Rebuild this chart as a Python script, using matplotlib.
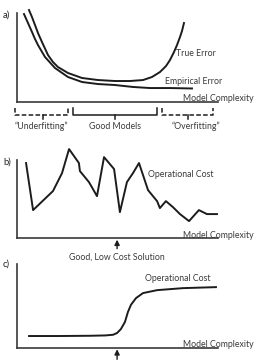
import matplotlib
matplotlib.use("Agg")
import matplotlib.pyplot as plt

# ------------------------------------------------------------------ #
# curve data (x = model complexity, y = error / cost, axis units 0-100)
# ------------------------------------------------------------------ #
TRUE_X = [5.97, 7.46, 8.96, 10.45, 12.44, 15.42, 17.91, 20.40, 25.37, 32.34,
          40.30, 48.76, 56.22, 62.69, 67.16, 71.14, 74.13, 76.12, 78.11,
          79.60, 81.09, 82.09, 83.08]
TRUE_Y = [103.4, 95.5, 86.5, 77.5, 67.4, 52.8, 44.9, 39.3, 32.6, 27.0,
          24.7, 23.6, 23.6, 24.7, 28.1, 33.7, 40.4, 47.2, 56.2, 64.0,
          73.0, 79.8, 88.8]
EMP_X = [3.48, 5.47, 7.46, 8.96, 10.45, 13.93, 18.91, 25.37, 32.34, 40.30,
         48.76, 57.71, 66.17, 76.12, 87.06]
EMP_Y = [98.9, 88.8, 78.7, 70.8, 64.0, 50.6, 38.2, 28.1, 22.5, 20.2,
         19.1, 16.9, 15.7, 15.7, 15.2]

COST_B_X = [4.5, 8.0, 17.9, 22.4, 25.9, 30.8, 31.3, 35.8, 39.8, 43.3,
            48.3, 51.2, 54.7, 57.7, 60.7, 65.2, 69.7, 71.1, 74.1, 77.6,
            81.1, 85.6, 90.5, 94.5, 99.5]
COST_B_Y = [96.2, 35.9, 60.3, 83.3, 114.1, 96.2, 85.9, 71.8, 53.8, 103.8,
            88.5, 33.3, 71.8, 83.3, 96.2, 61.5, 47.4, 38.5, 47.4, 39.7,
            30.8, 21.8, 35.9, 30.8, 30.8]

COST_C_X = [6.0, 21.4, 36.3, 44.0, 47.8, 49.8, 51.7, 53.7, 55.2, 56.7,
            59.2, 62.7, 69.7, 82.6, 99.0]
COST_C_Y = [14.3, 14.3, 14.6, 15.0, 15.8, 17.9, 22.6, 31.0, 43.0, 51.5,
            59.5, 65.5, 69.0, 71.4, 72.6]

# regions under panel a
REGION_LABELS = ["\u201cUnderfitting\u201d", "Good Models", "\u201cOverfitting\u201d"]
REGION_START = [-1.0, 27.9, 72.1]
REGION_END = [25.4, 69.7, 97.5]
REGION_MID = [12.9, 48.8, 85.1]
REGION_TEXT_X = [11.9, 48.8, 89.1]
REGION_DASHED = [True, False, True]

BEST_X = 49.8

INK = "#1c1c1c"
TXT = "#3a3a3a"
FS = 6.3

plt.rcParams["font.family"] = ["Lato", "DejaVu Sans"]


def _frame(ax):
    ax.set_xlim(0, 100)
    ax.set_ylim(0, 100)
    for s in ("top", "right"):
        ax.spines[s].set_visible(False)
    for s in ("left", "bottom"):
        ax.spines[s].set_color("#3a3a3a")
        ax.spines[s].set_linewidth(1.2)
    ax.set_xticks([])
    ax.set_yticks([])
    ax.patch.set_alpha(0)
    ax.text(82.6, 4.0, "Model Complexity", fontsize=FS, color=TXT,
            va="center", ha="left", clip_on=False)


def _arrow(ax, y0, y1):
    ax.annotate("", xy=(BEST_X, y1), xytext=(BEST_X, y0),
                arrowprops=dict(arrowstyle="-|>,head_length=0.5,head_width=0.25",
                                color=INK, lw=1.0, mutation_scale=6,
                                shrinkA=0, shrinkB=0),
                annotation_clip=False)


fig = plt.figure(figsize=(2.58, 3.63), dpi=100)

# ---- panel a ----
ax = fig.add_axes([0.0659, 0.719, 0.779, 0.245])
_frame(ax)
ax.plot(TRUE_X, TRUE_Y, color=INK, lw=1.4, clip_on=False)
ax.plot(EMP_X, EMP_Y, color=INK, lw=1.4, clip_on=False)
ax.text(79.1, 54, "True Error", fontsize=FS, color=TXT, va="center")
ax.text(73.6, 23.6, "Empirical Error", fontsize=FS, color=TXT, va="center")
for lab, x0, x1, xm, xt, dashed in zip(REGION_LABELS, REGION_START, REGION_END,
                                        REGION_MID, REGION_TEXT_X, REGION_DASHED):
    ls = (0, (3, 1.5)) if dashed else "-"
    ax.plot([x0, x0, x1, x1], [-6.7, -14.6, -14.6, -6.7], color=INK, lw=1.1,
            ls=ls, clip_on=False)
    ax.plot([xm, xm], [-14.6, -19.1], color=INK, lw=1.1, clip_on=False)
    ax.text(xt, -27, lab, fontsize=FS, color=TXT, ha="center",
            va="center", clip_on=False)

# ---- panel b ----
ax = fig.add_axes([0.0659, 0.344, 0.779, 0.215])
_frame(ax)
ax.plot(COST_B_X, COST_B_Y, color=INK, lw=1.4, clip_on=False)
ax.text(65.2, 82, "Operational Cost", fontsize=FS, color=TXT, va="center")
_arrow(ax, -13.5, -2.0)
ax.text(BEST_X, -24.4, "Good, Low Cost Solution", fontsize=FS, color=TXT,
        ha="center", va="center", clip_on=False)

# ---- panel c ----
ax = fig.add_axes([0.0659, 0.0413, 0.779, 0.231])
_frame(ax)
ax.plot(COST_C_X, COST_C_Y, color=INK, lw=1.4, clip_on=False)
ax.text(63.7, 83.3, "Operational Cost", fontsize=FS, color=TXT, va="center")
_arrow(ax, -13.5, -1.5)

# panel letters
for lab, yy in zip(["a)", "b)", "c)"], [0.958, 0.554, 0.273]):
    fig.text(0.012, yy, lab, fontsize=6.8, color="#222222", va="center")

fig.savefig("out.png", dpi=100)
